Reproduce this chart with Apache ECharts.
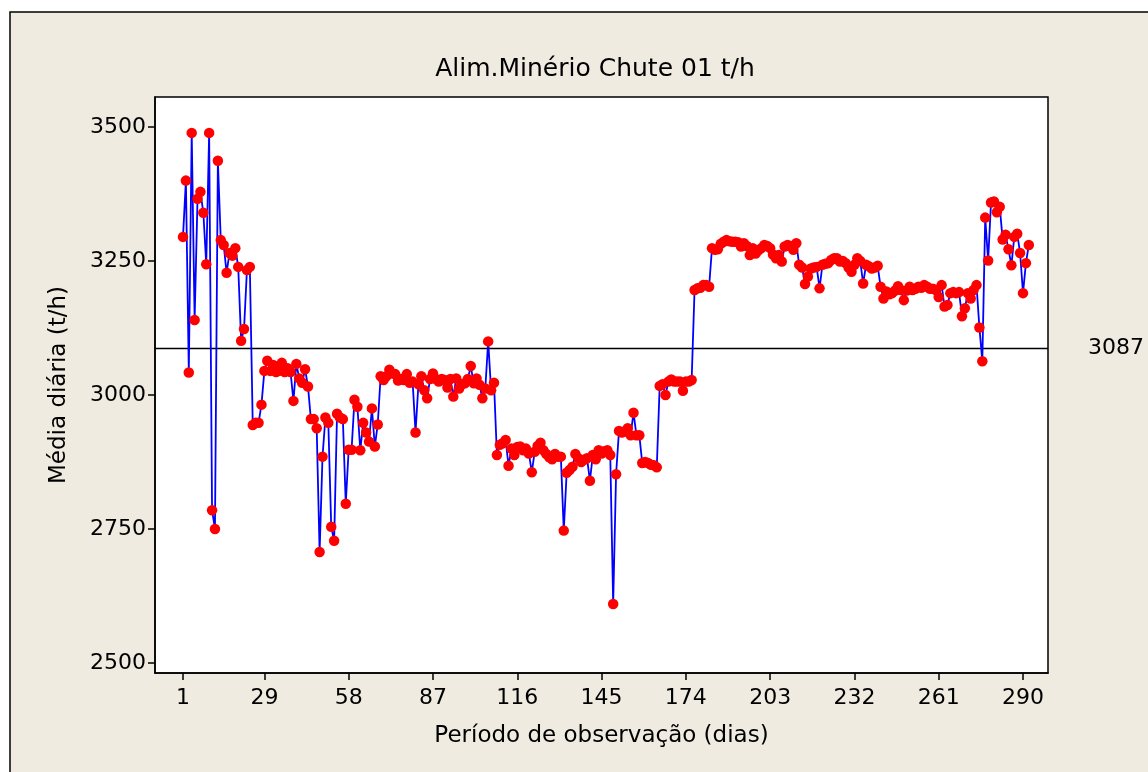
<!DOCTYPE html>
<html>
<head>
<meta charset="utf-8">
<script src="https://cdn.jsdelivr.net/npm/echarts@6/dist/echarts.min.js"></script>
<style>
html,body{margin:0;padding:0;background:#fff;}
#chart{width:1148px;height:772px;}
</style>
</head>
<body>
<div id="chart"></div>
<script>
// Chart values (daily mean, t/h), observation index 1..292
const titleText = 'Alim.Minério Chute 01 t/h';
const xAxisName = 'Período de observação (dias)';
const yAxisName = 'Média diária (t/h)';
const meanValue = 3087;
const xTicks = [1, 29, 58, 87, 116, 145, 174, 203, 232, 261, 290];
const yTicks = [2500, 2750, 3000, 3250, 3500];

const values1_50 = [
  3295, 3400, 3042, 3489, 3140, 3366, 3379, 3340, 3244, 3489,
  2785, 2750, 3437, 3289, 3280, 3228, 3265, 3260, 3274, 3239,
  3101, 3123, 3233, 3239, 2944, 2948, 2948, 2982, 3045, 3064,
  3045, 3056, 3043, 3045, 3060, 3043, 3050, 3043, 2989, 3058,
  3031, 3023, 3048, 3016, 2955, 2955, 2938, 2707, 2885, 2958
];
const values51_100 = [
  2948, 2754, 2728, 2965, 2958, 2955, 2797, 2898, 2898, 2991,
  2978, 2897, 2948, 2930, 2913, 2975, 2904, 2945, 3035, 3028,
  3035, 3047, 3040, 3039, 3027, 3030, 3028, 3039, 3023, 3025,
  2930, 3020, 3035, 3009, 2994, 3030, 3040, 3030, 3025, 3030,
  3028, 3014, 3030, 2997, 3031, 3012, 3020, 3022, 3030, 3054
];
const values101_150 = [
  3022, 3031, 3019, 2994, 3012, 3100, 3009, 3023, 2888, 2907,
  2910, 2916, 2868, 2900, 2888, 2903, 2904, 2897, 2900, 2891,
  2856, 2894, 2905, 2911, 2897, 2890, 2884, 2880, 2890, 2885,
  2885, 2747, 2855, 2860, 2866, 2890, 2882, 2875, 2879, 2882,
  2840, 2888, 2880, 2897, 2891, 2895, 2897, 2888, 2610, 2852
];
const values151_200 = [
  2933, 2930, 2932, 2938, 2925, 2967, 2925, 2925, 2873, 2875,
  2873, 2870, 2869, 2865, 3017, 3020, 3000, 3025, 3029, 3025,
  3025, 3025, 3008, 3025, 3025, 3028, 3196, 3199, 3200, 3205,
  3205, 3202, 3274, 3271, 3272, 3282, 3286, 3289, 3287, 3286,
  3286, 3285, 3277, 3283, 3278, 3261, 3274, 3264, 3270, 3274
];
const values201_250 = [
  3280, 3278, 3274, 3262, 3255, 3261, 3249, 3277, 3280, 3278,
  3271, 3283, 3243, 3238, 3207, 3221, 3236, 3238, 3239, 3199,
  3243, 3245, 3246, 3252, 3255, 3255, 3249, 3250, 3246, 3238,
  3230, 3243, 3255, 3250, 3208, 3243, 3240, 3236, 3238, 3241,
  3202, 3180, 3193, 3188, 3190, 3195, 3203, 3196, 3177, 3195
];
const values251_292 = [
  3202, 3196, 3198, 3202, 3200, 3205, 3202, 3198, 3198, 3196,
  3183, 3205, 3165, 3168, 3190, 3192, 3190, 3192, 3147, 3162,
  3190, 3180, 3196, 3205, 3126, 3063, 3331, 3251, 3359, 3361,
  3341, 3351, 3290, 3299, 3272, 3242, 3295, 3301, 3265, 3190,
  3246, 3280
];

const values = [].concat(values1_50, values51_100, values101_150, values151_200, values201_250, values251_292);
const seriesData = values.map((v, i) => [i + 1, v]);

const FONT = 'DejaVu Sans';
const chart = echarts.init(document.getElementById('chart'), null, {renderer: 'canvas'});
chart.setOption({
  backgroundColor: '#ffffff',
  animation: false,
  graphic: [{
    type: 'rect', z: -10, silent: true,
    shape: {x: 10, y: 12, width: 1300, height: 900},
    style: {fill: '#efebe1', stroke: '#000', lineWidth: 1.5}
  }],
  title: {
    text: titleText, left: 590, top: 52, textAlign: 'center',
    textStyle: {fontFamily: FONT, fontSize: 25, fontWeight: 'normal', color: '#000'}
  },
  grid: {
    left: 155, top: 97, right: 100, bottom: 99,
    show: true, backgroundColor: '#fff', borderColor: '#000', borderWidth: 1.5
  },
  xAxis: {
    type: 'value', min: -8.63, max: 298.6,
    name: xAxisName, nameLocation: 'middle', nameGap: 52,
    nameTextStyle: {fontFamily: FONT, fontSize: 23, color: '#000'},
    splitLine: {show: false},
    axisLine: {show: true, onZero: false, lineStyle: {color: '#000', width: 1.5}},
    axisTick: {show: true, length: 7, customValues: xTicks, lineStyle: {color: '#000', width: 1.5}},
    axisLabel: {customValues: xTicks, fontFamily: FONT, fontSize: 22, color: '#000', margin: 14,
                formatter: v => String(v)}
  },
  yAxis: {
    type: 'value', min: 2481.3, max: 3556,
    name: yAxisName, nameLocation: 'middle', nameGap: 84, nameRotate: 90,
    nameTextStyle: {fontFamily: FONT, fontSize: 23, color: '#000'},
    splitLine: {show: false},
    axisLine: {show: true, onZero: false, lineStyle: {color: '#000', width: 1.5}},
    axisTick: {show: true, length: 7, customValues: yTicks, lineStyle: {color: '#000', width: 1.5}},
    axisLabel: {customValues: yTicks, fontFamily: FONT, fontSize: 22, color: '#000', margin: 9,
                formatter: v => String(v)}
  },
  series: [{
    type: 'line',
    data: seriesData,
    symbol: 'circle', symbolSize: 10.5,
    itemStyle: {color: '#ff0000'},
    lineStyle: {color: '#0000ff', width: 1.8},
    markLine: {
      silent: true, symbol: 'none', z: 1,
      lineStyle: {color: '#000', width: 1.3, type: 'solid'},
      label: {show: true, position: 'end', distance: 40, formatter: String(meanValue),
              fontFamily: FONT, fontSize: 22, color: '#000'},
      data: [{yAxis: meanValue}]
    }
  }]
});
</script>
</body>
</html>
